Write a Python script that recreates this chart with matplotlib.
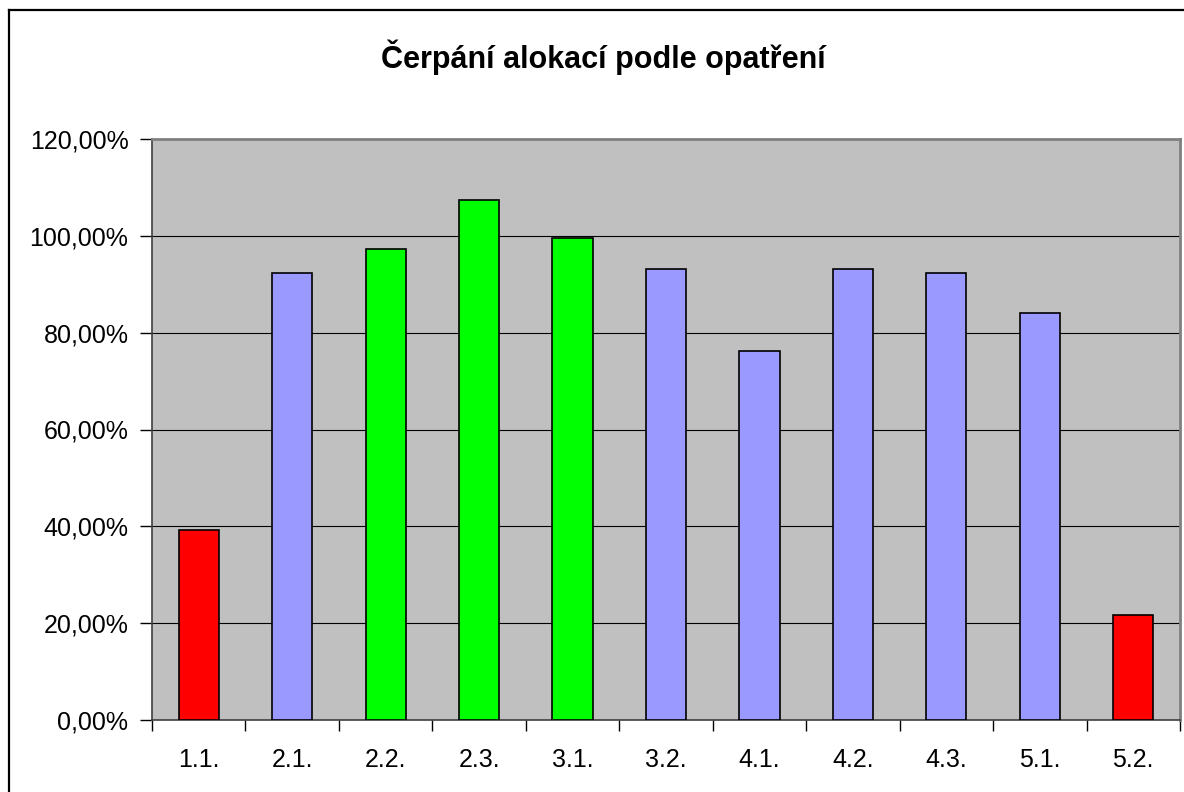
import matplotlib.pyplot as plt
from matplotlib.lines import Line2D
from matplotlib.ticker import FuncFormatter, FixedLocator

plt.rcParams['font.family'] = ['Liberation Sans', 'DejaVu Sans']

categories = ['1.1.', '2.1.', '2.2.', '2.3.', '3.1.', '3.2.', '4.1.', '4.2.', '4.3.', '5.1.', '5.2.']
values = [39.2, 92.4, 97.2, 107.3, 99.6, 93.2, 76.3, 93.2, 92.4, 84.0, 21.7]
colors = ['#FF0000', '#9999FF', '#00FF00', '#00FF00', '#00FF00', '#9999FF',
          '#9999FF', '#9999FF', '#9999FF', '#9999FF', '#FF0000']

fig = plt.figure(figsize=(11.84, 7.92), dpi=100)
ax = fig.add_axes([152/1184, 1 - 720/792, 1028/1184, 581/792])
ax.set_facecolor('#C0C0C0')

x = range(len(categories))
ax.bar(x, values, width=0.43, color=colors, edgecolor='black', linewidth=1.2, zorder=3)

ax.set_xlim(-0.5, len(categories) - 0.5)
ax.set_ylim(0, 120)
ax.set_yticks(range(0, 121, 20))
ax.yaxis.set_major_formatter(FuncFormatter(lambda v, p: ('%.2f%%' % v).replace('.', ',')))
ax.grid(axis='y', color='black', linewidth=0.8, zorder=1)

ax.set_xticks(list(x))
ax.set_xticklabels(categories)
ax.xaxis.set_minor_locator(FixedLocator([i - 0.5 for i in range(len(categories) + 1)]))
ax.tick_params(axis='x', which='major', length=0, pad=20, labelsize=18)
ax.tick_params(axis='x', which='minor', length=8, width=1, color='black', direction='out')
ax.tick_params(axis='y', length=9, width=1, color='black', direction='out', pad=8, labelsize=18)

ax.spines['left'].set_color('#404040')
ax.spines['left'].set_linewidth(1.2)
ax.spines['bottom'].set_color('#404040')
ax.spines['bottom'].set_linewidth(1.2)
ax.spines['top'].set_color('#808080')
ax.spines['top'].set_linewidth(2)
ax.spines['right'].set_color('#808080')
ax.spines['right'].set_linewidth(2)

fig.text(603/1184, 1 - 57/792, 'Čerpání alokací podle opatření', ha='center', va='center',
         fontsize=22, fontweight='bold')

# chart border (cut off at right and bottom like the original)
fig.add_artist(Line2D([9/1184, 9/1184], [0, 1 - 10/792], color='black', linewidth=1.6))
fig.add_artist(Line2D([9/1184, 1], [1 - 10/792, 1 - 10/792], color='black', linewidth=1.6))

fig.savefig('out.png', dpi=100, facecolor='white')
